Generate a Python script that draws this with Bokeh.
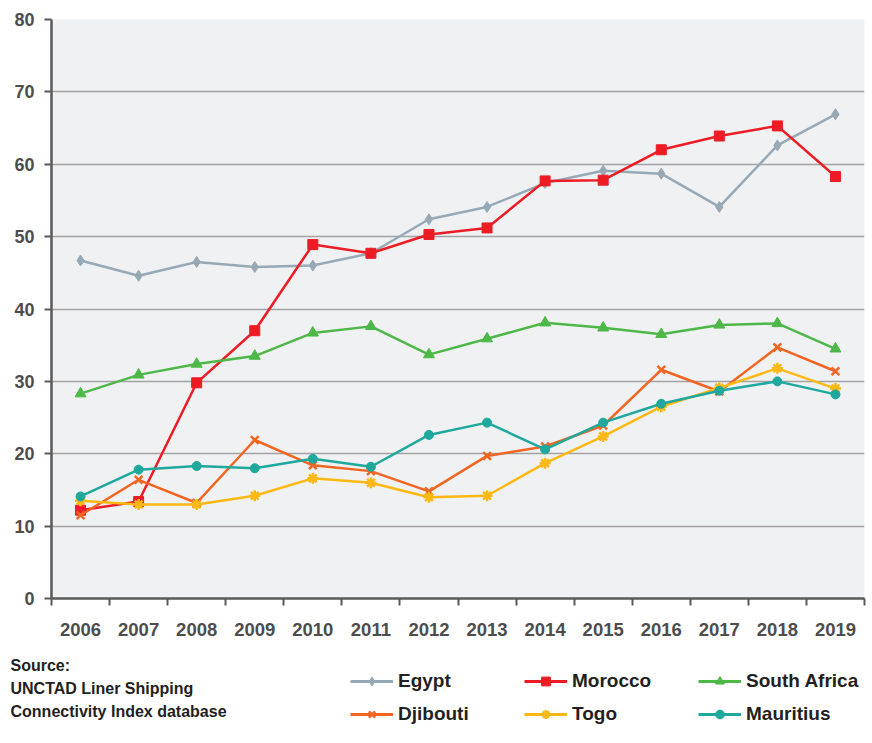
from bokeh.plotting import figure
from bokeh.models import Range1d, FixedTicker, Legend, LegendItem, Label, BasicTickFormatter
from bokeh.layouts import column
from bokeh.embed import file_html
from bokeh.resources import INLINE

years = [2006, 2007, 2008, 2009, 2010, 2011, 2012, 2013, 2014, 2015, 2016, 2017, 2018, 2019]
y_ticks = [0, 10, 20, 30, 40, 50, 60, 70, 80]

egypt = [46.7, 44.6, 46.5, 45.8, 46.0, 47.7, 52.4, 54.1, 57.4, 59.1, 58.7, 54.1, 62.6, 66.9]
morocco = [12.2, 13.4, 29.8, 37.0, 48.9, 47.7, 50.3, 51.2, 57.7, 57.8, 62.0, 63.9, 65.3, 58.3]
south_africa = [28.3, 30.9, 32.4, 33.5, 36.7, 37.6, 33.7, 35.9, 38.1, 37.4, 36.5, 37.8, 38.0, 34.5]
djibouti = [11.5, 16.4, 13.2, 21.9, 18.4, 17.6, 14.8, 19.7, 21.0, 23.9, 31.6, 28.6, 34.7, 31.4]
togo = [13.5, 13.0, 13.0, 14.2, 16.6, 16.0, 14.0, 14.2, 18.7, 22.4, 26.5, 29.1, 31.8, 29.0]
mauritius = [14.1, 17.8, 18.3, 18.0, 19.3, 18.2, 22.6, 24.3, 20.6, 24.3, 26.9, 28.7, 30.0, 28.2]

series = [
    ("Egypt", egypt, "#98A9B6", "diamond", 11),
    ("Morocco", morocco, "#ED1C24", "square", 10),
    ("South Africa", south_africa, "#4DB848", "triangle", 11),
    ("Djibouti", djibouti, "#F26522", "x", 11),
    ("Togo", togo, "#FDB913", "asterisk", 11),
    ("Mauritius", mauritius, "#1FA89C", "circle", 9),
]

source_lines = ["Source:", "UNCTAD Liner Shipping", "Connectivity Index database"]

W = 872
p = figure(width=W, height=652, output_backend="svg", toolbar_location=None,
           x_range=Range1d(years[0] - 0.5, years[-1] + 0.5), y_range=Range1d(y_ticks[0], y_ticks[-1]),
           min_border_left=51, min_border_right=8, min_border_top=19, min_border_bottom=54)
p.frame_align = False

p.background_fill_color = "#F0F1F3"
p.border_fill_color = "white"
p.outline_line_color = None
p.xgrid.grid_line_color = None
p.ygrid.grid_line_color = "#A3A3A3"
p.ygrid.grid_line_width = 1.5
p.ygrid.ticker = FixedTicker(ticks=y_ticks)

axis_color = "#5A5A5A"
label_color = "#4D4D4D"

p.yaxis.ticker = FixedTicker(ticks=y_ticks)
p.yaxis.axis_line_color = axis_color
p.yaxis.axis_line_width = 2.5
p.yaxis.major_tick_line_color = axis_color
p.yaxis.major_tick_line_width = 2
p.yaxis.major_tick_out = 7
p.yaxis.major_tick_in = 0
p.yaxis.minor_tick_line_color = None
p.yaxis.major_label_standoff = 10
p.yaxis.major_label_text_font = "Liberation Sans"
p.yaxis.major_label_text_font_style = "bold"
p.yaxis.major_label_text_font_size = "18px"
p.yaxis.major_label_text_color = label_color

p.xaxis.ticker = FixedTicker(ticks=years, minor_ticks=[y - 0.5 for y in years] + [years[-1] + 0.5])
p.xaxis.formatter = BasicTickFormatter(use_scientific=False)
p.xaxis.axis_line_color = axis_color
p.xaxis.axis_line_width = 2.5
p.xaxis.major_tick_line_color = None
p.xaxis.major_tick_out = 0
p.xaxis.major_tick_in = 0
p.xaxis.minor_tick_line_color = axis_color
p.xaxis.minor_tick_line_width = 2
p.xaxis.minor_tick_out = 7
p.xaxis.minor_tick_in = 0
p.xaxis.major_label_standoff = 17
p.xaxis.major_label_text_font = "Liberation Sans"
p.xaxis.major_label_text_font_style = "bold"
p.xaxis.major_label_text_font_size = "18.5px"
p.xaxis.major_label_text_color = label_color


def marker_width(marker):
    return 2.5 if marker in ("x", "asterisk") else 1


for name, vals, color, marker, size in series:
    p.line(years, vals, line_color=color, line_width=2.5)
    p.scatter(years, vals, marker=marker, size=size, fill_color=color, line_color=color,
              line_width=marker_width(marker))

# bottom strip: source note and legend (series drawn again out of view, only for the legend glyphs)
H2 = 743 - 652
q = figure(width=W, height=H2, output_backend="svg", toolbar_location=None,
           x_range=Range1d(0, W), y_range=Range1d(H2, 0),
           x_axis_location=None, y_axis_location=None,
           min_border_left=0, min_border_right=0, min_border_top=0, min_border_bottom=0)
q.frame_align = False
q.grid.visible = False
q.outline_line_color = None
q.background_fill_color = "white"
q.border_fill_color = "white"

items = []
for name, vals, color, marker, size in series:
    r1 = q.line(years, vals, line_color=color, line_width=3)
    r2 = q.scatter(years, vals, marker=marker, size=size, fill_color=color, line_color=color,
                   line_width=marker_width(marker))
    items.append(LegendItem(label=name, renderers=[r1, r2]))

legend = Legend(items=items, location=(350, 18), orientation="horizontal", ncols=3,
                background_fill_alpha=0, border_line_color=None, padding=0, margin=0,
                spacing=11, glyph_width=43, glyph_height=22, label_standoff=5,
                label_width=115, label_height=22,
                label_text_font="Liberation Sans", label_text_font_style="bold",
                label_text_font_size="19px", label_text_color="#231F20",
                label_text_baseline="middle")
q.add_layout(legend, "center")

for i, line in enumerate(source_lines):
    q.add_layout(Label(x=10, y=13 + 23 * i, text=line,
                       text_font="Liberation Sans", text_font_style="bold",
                       text_font_size="16px", text_color="#231F20", text_baseline="middle"))

layout = column(p, q, spacing=0)
open("out.html", "w").write(file_html(layout, INLINE))
